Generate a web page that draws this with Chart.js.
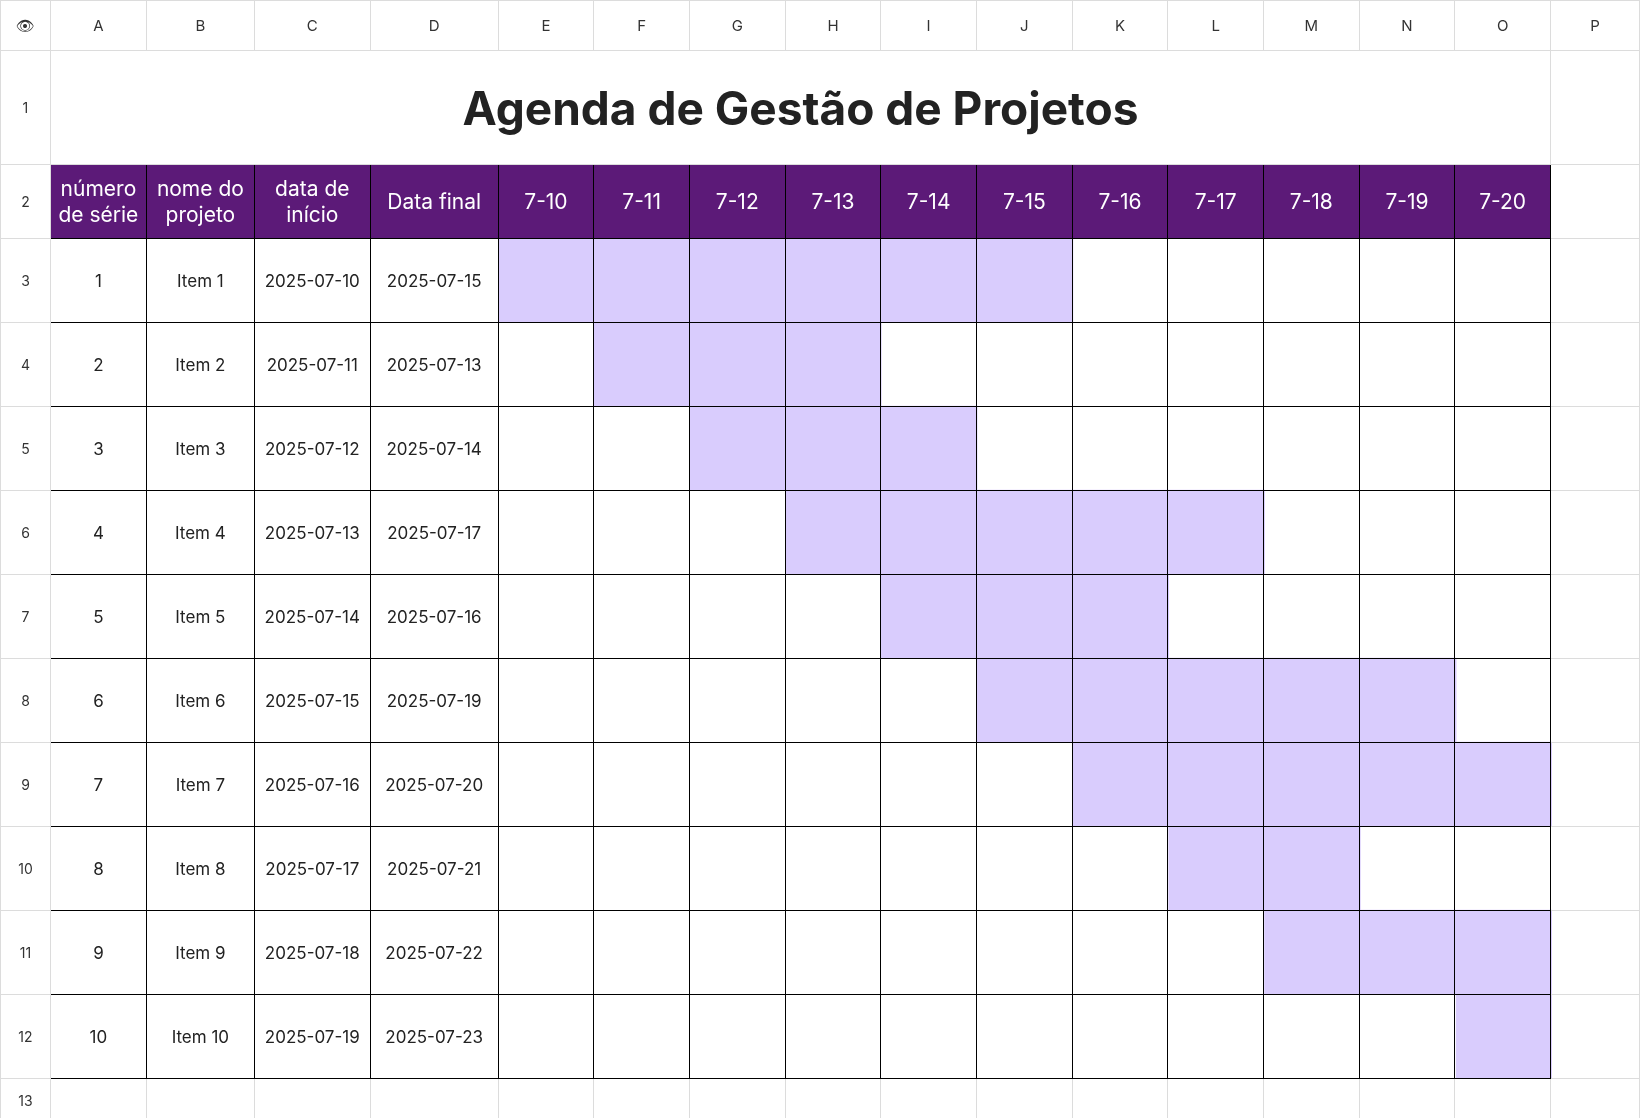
<!DOCTYPE html>
<html>
<head>
<meta charset="utf-8">
<script src="https://cdn.jsdelivr.net/npm/chart.js@4"></script>
<style>
  body { margin: 0; background: #fff; font-family: Inter, "Noto Sans", sans-serif; }
  #wrap { position: relative; width: 1640px; height: 1118px; overflow: hidden; }
  #box { position: absolute; left: 498px; top: 238px; width: 1054px; height: 840px; z-index: 0; }
  table { position: absolute; left: 0; top: 0; border-collapse: collapse; table-layout: fixed; z-index: 1; }
  td { border: 1px solid #dcdcdc; padding: 0; text-align: center; vertical-align: middle; color: #222; font-size: 17px; background: transparent; }
  td.rh { color: #333; font-size: 14px; }
  td.ch { height: 49px; color: #333; font-size: 15px; }
  td.title { font-size: 46px; font-weight: 700; color: #222; }
  td.hd { background: #5c1a78; color: #fff; font-size: 21px; line-height: 26px; border: 1px solid #000; }
  td.b { border: 1px solid #000; }
</style>
</head>
<body>
<div id="wrap">
  <div id="box"><canvas id="gantt"></canvas></div>
  <table id="sheet"></table>
</div>
<script>
const days = ["7-10", "7-11", "7-12", "7-13", "7-14", "7-15", "7-16", "7-17", "7-18", "7-19", "7-20"];
const items = ["Item 1", "Item 2", "Item 3", "Item 4", "Item 5", "Item 6", "Item 7", "Item 8", "Item 9", "Item 10"];
const startDates = ["2025-07-10", "2025-07-11", "2025-07-12", "2025-07-13", "2025-07-14", "2025-07-15", "2025-07-16", "2025-07-17", "2025-07-18", "2025-07-19"];
const endDates = ["2025-07-15", "2025-07-13", "2025-07-14", "2025-07-17", "2025-07-16", "2025-07-19", "2025-07-20", "2025-07-21", "2025-07-22", "2025-07-23"];
// shaded cells as they appear in the sheet
const shadeFrom = ["7-10", "7-11", "7-12", "7-13", "7-14", "7-15", "7-16", "7-17", "7-18", "7-20"];
const shadeTo = ["7-15", "7-13", "7-14", "7-17", "7-16", "7-19", "7-20", "7-18", "7-20", "7-20"];
const headers = ["número<br>de série", "nome do<br>projeto", "data de<br>início", "Data final"];

const colW = [50, 96, 108, 116, 128].concat(days.map(() => 95.8)).concat([89]);
const letters = "ABCDEFGHIJKLMNOP".split("");

let html = "<colgroup>" + colW.map(w => `<col style="width:${w}px">`).join("") + "</colgroup>";
html += `<tr><td class="ch">👁</td>` + letters.map(l => `<td class="ch">${l}</td>`).join("") + "</tr>";
html += `<tr style="height:114px"><td class="rh">1</td><td class="title" colspan="15">Agenda de Gestão de Projetos</td><td></td></tr>`;
html += `<tr style="height:74px"><td class="rh">2</td>` + headers.map(h => `<td class="hd">${h}</td>`).join("") +
  days.map(d => `<td class="hd">${d}</td>`).join("") + "<td></td></tr>";
items.forEach((it, i) => {
  html += `<tr style="height:84px"><td class="rh">${i + 3}</td><td class="b">${i + 1}</td><td class="b">${it}</td>` +
    `<td class="b">${startDates[i]}</td><td class="b">${endDates[i]}</td>` +
    days.map(() => `<td class="b"></td>`).join("") + "<td></td></tr>";
});
html += `<tr style="height:44px"><td class="rh">13</td>` + letters.map(() => "<td></td>").join("") + "</tr>";
document.getElementById("sheet").innerHTML = html;

const ranges = items.map((_, i) => [days.indexOf(shadeFrom[i]) - 0.5, days.indexOf(shadeTo[i]) + 0.5]);

new Chart(document.getElementById("gantt"), {
  type: "bar",
  data: {
    labels: items,
    datasets: [{ data: ranges, backgroundColor: "#d9ccfd", borderWidth: 0, barPercentage: 1, categoryPercentage: 1 }]
  },
  options: {
    indexAxis: "y",
    responsive: true,
    maintainAspectRatio: false,
    animation: false,
    layout: { padding: 0 },
    plugins: { legend: { display: false }, tooltip: { enabled: false } },
    scales: {
      x: { type: "linear", min: -0.5, max: days.length - 0.5, display: false },
      y: { display: false }
    }
  }
});
</script>
</body>
</html>
